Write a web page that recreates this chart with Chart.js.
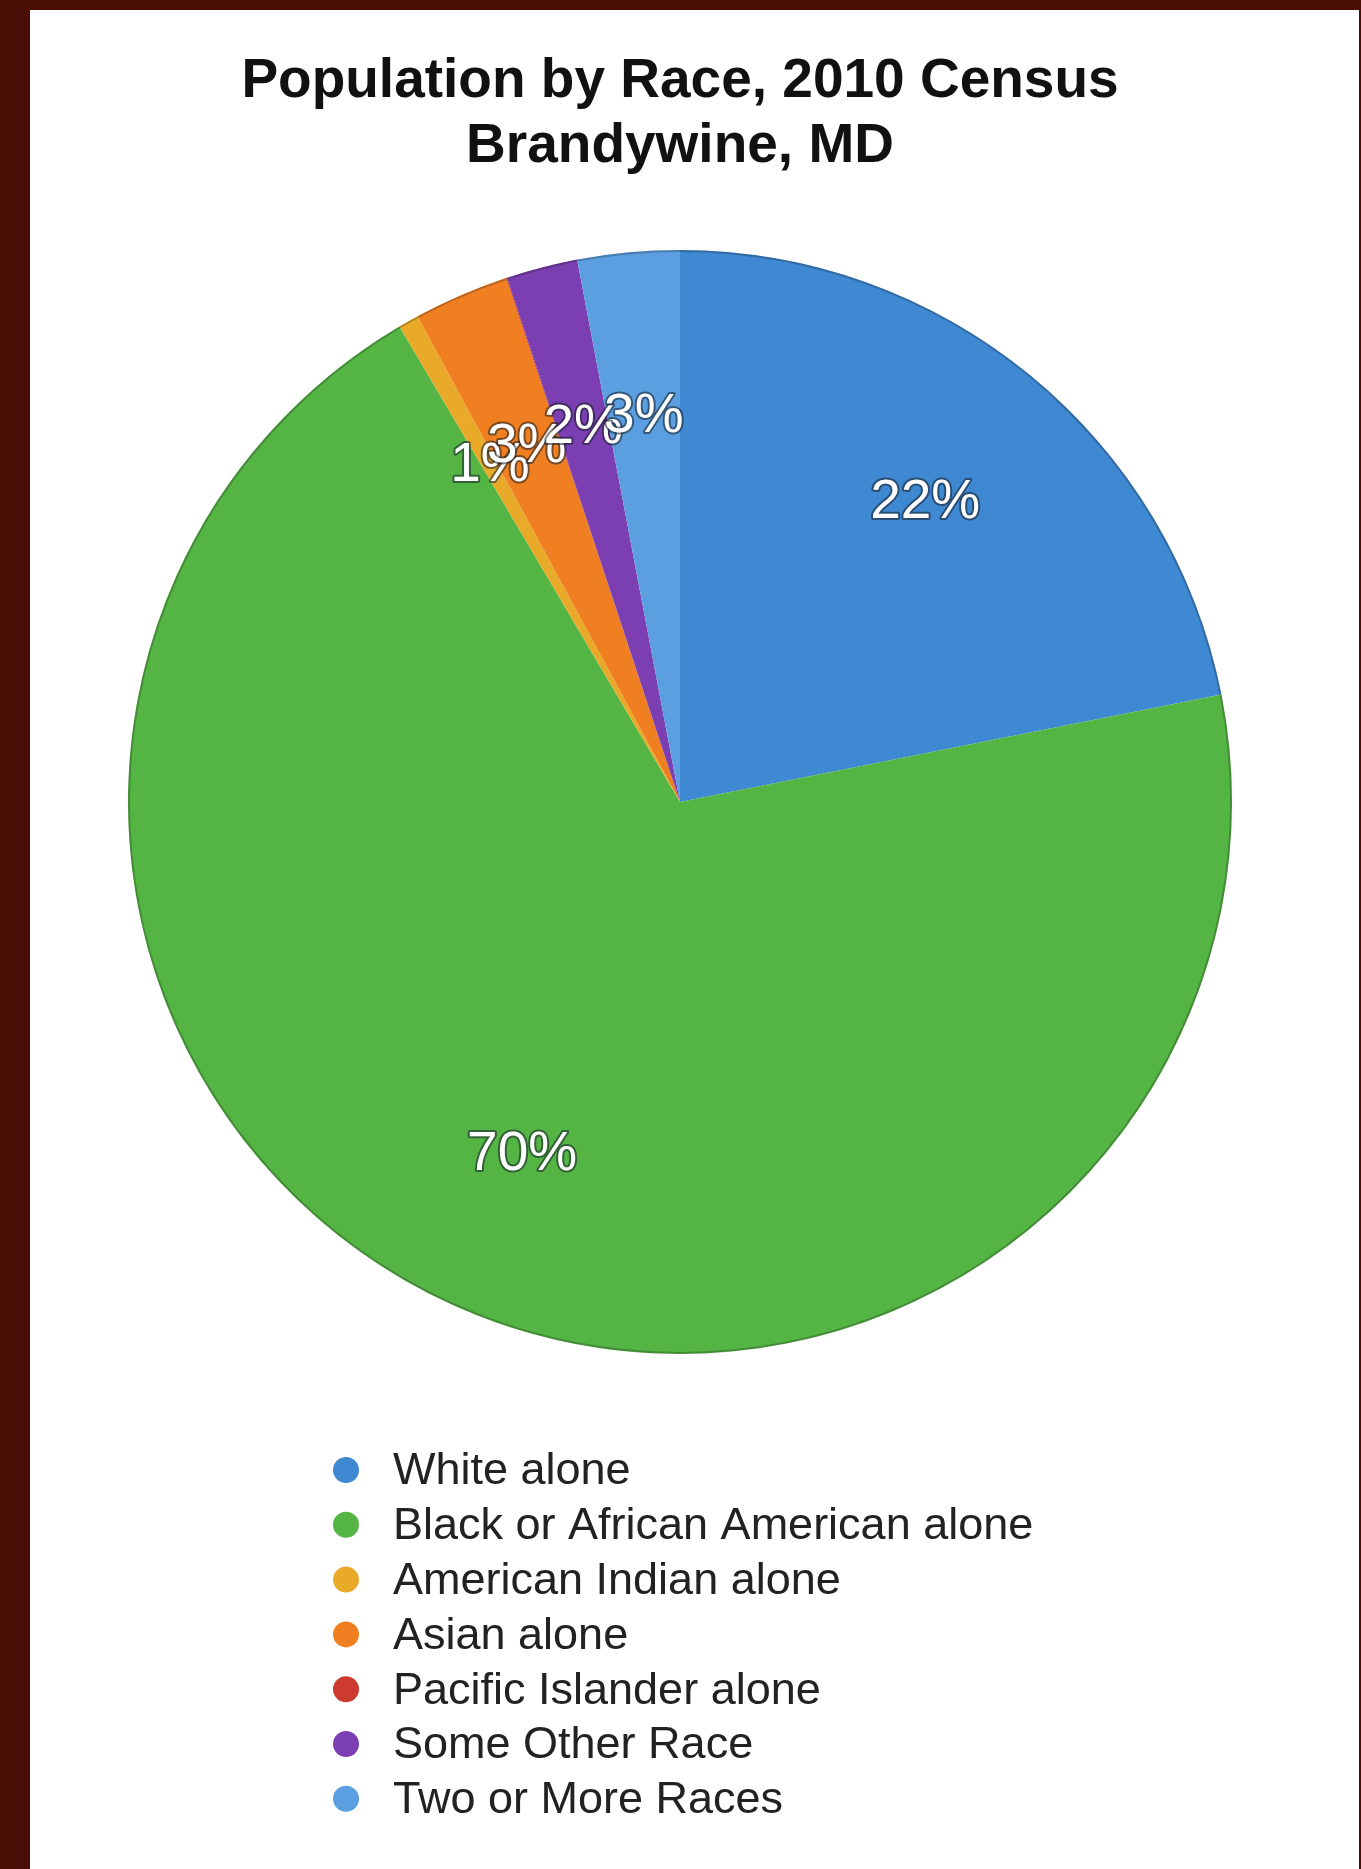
<!DOCTYPE html>
<html>
<head>
<meta charset="utf-8">
<title>Population by Race, 2010 Census - Brandywine, MD</title>
<script src="https://cdn.jsdelivr.net/npm/chart.js@4.4.1/dist/chart.umd.min.js"></script>
<style>
  body { margin: 0; background: #4a0e07; width: 1361px; height: 1869px; overflow: hidden; }
  #panel { position: absolute; left: 30px; top: 10px; width: 1329px; height: 1859px; background: #fff; }
  canvas { display: block; }
</style>
</head>
<body>
<div id="panel"><canvas id="race-chart" width="1329" height="1859"></canvas></div>
<script>
// categories, shares (percent of population) and colours
const races = ['White alone', 'Black or African American alone', 'American Indian alone',
  'Asian alone', 'Pacific Islander alone', 'Some Other Race', 'Two or More Races'];
const shares = [22, 70, 0.6, 2.8, 0.03, 2.1, 3.0];
const colors = ['#3f88d2', '#54b444', '#e9aa2a', '#f07f22', '#cc3b2e', '#7b3fb1', '#5c9fe0'];
const titleLines = ['Population by Race, 2010 Census', 'Brandywine, MD'];

const total = shares.reduce((a, b) => a + b, 0);

// percent labels inside each slice, plus a soft rim round the pie
const sliceLabels = {
  id: 'sliceLabels',
  afterDatasetsDraw(chart) {
    const ctx = chart.ctx;
    const arcs = chart.getDatasetMeta(0).data;
    ctx.save();
    const first = arcs[0].getProps(['x', 'y', 'outerRadius'], true);
    ctx.beginPath();
    ctx.arc(first.x, first.y, first.outerRadius - 1, 0, Math.PI * 2);
    ctx.lineWidth = 2;
    ctx.strokeStyle = 'rgba(0,0,0,0.22)';
    ctx.stroke();

    ctx.font = '55px "Liberation Sans", Arial, sans-serif';
    ctx.textAlign = 'center';
    ctx.textBaseline = 'middle';
    ctx.lineJoin = 'round';
    arcs.forEach((arc, i) => {
      const pct = Math.round(shares[i] / total * 100);
      if (pct === 0) return;
      const { x, y, startAngle, endAngle, outerRadius } =
        arc.getProps(['x', 'y', 'startAngle', 'endAngle', 'outerRadius'], true);
      const mid = (startAngle + endAngle) / 2;
      const r = outerRadius * 0.7;
      const tx = x + Math.cos(mid) * r;
      const ty = y + Math.sin(mid) * r;
      ctx.lineWidth = 4;
      ctx.strokeStyle = 'rgba(20,30,40,0.55)';
      ctx.strokeText(pct + '%', tx, ty);
      ctx.fillStyle = '#ffffff';
      ctx.fillText(pct + '%', tx, ty);
    });
    ctx.restore();
  }
};

// vertical legend under the pie
const listLegend = {
  id: 'listLegend',
  afterDraw(chart) {
    const ctx = chart.ctx;
    ctx.save();
    ctx.font = '45px "Liberation Sans", Arial, sans-serif';
    ctx.textBaseline = 'middle';
    ctx.textAlign = 'left';
    races.forEach((name, i) => {
      const y = 1460 + i * 54.8;
      ctx.beginPath();
      ctx.arc(316, y, 13, 0, Math.PI * 2);
      ctx.fillStyle = colors[i];
      ctx.fill();
      ctx.fillStyle = '#222222';
      ctx.fillText(name, 363, y + 2);
    });
    ctx.restore();
  }
};

new Chart(document.querySelector('#race-chart').getContext('2d'), {
  type: 'pie',
  data: {
    labels: races,
    datasets: [{
      data: shares,
      backgroundColor: colors,
      borderWidth: 0,
      radius: 552
    }]
  },
  options: {
    responsive: false,
    animation: false,
    layout: { padding: { left: 98, right: 127, top: 0, bottom: 461 } },
    plugins: {
      legend: { display: false },
      tooltip: { enabled: false },
      title: {
        display: true,
        text: titleLines,
        color: '#111111',
        font: { family: '"Liberation Sans", Arial, sans-serif', size: 55, weight: 'bold', lineHeight: 1.18 },
        padding: { top: 39, bottom: 17 }
      }
    }
  },
  plugins: [sliceLabels, listLegend]
});
</script>
</body>
</html>
